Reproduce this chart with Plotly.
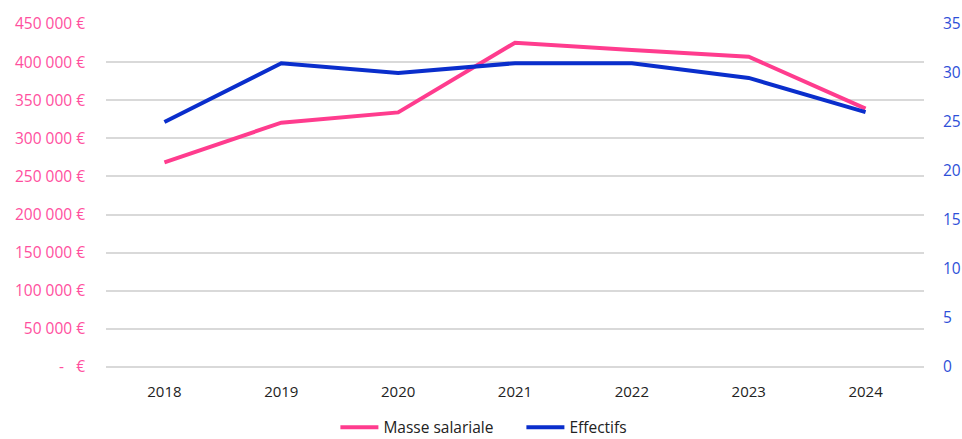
import plotly.graph_objects as go

years = ["2018", "2019", "2020", "2021", "2022", "2023", "2024"]
masse_salariale = [268500, 320500, 334000, 425500, 416000, 407000, 339000]
effectifs = [25, 31, 30, 31, 31, 29.5, 26]

left_ticks = [0, 50000, 100000, 150000, 200000, 250000, 300000, 350000, 400000, 450000]
right_ticks = [0, 5, 10, 15, 20, 25, 30, 35]


def fmt_eur(v):
    if v == 0:
        return "-   €"
    return f"{v:,.0f}".replace(",", " ") + " €"


left_text = [fmt_eur(v) for v in left_ticks]

pink = "#FF3C8E"
blue = "#0A2ECC"
font = "Open Sans"

fig = go.Figure()
fig.add_trace(go.Scatter(x=years, y=masse_salariale, name="Masse salariale", mode="lines",
                         line=dict(color=pink, width=4), yaxis="y"))
fig.add_trace(go.Scatter(x=years, y=effectifs, name="Effectifs", mode="lines",
                         line=dict(color=blue, width=4), yaxis="y2"))

fig.update_layout(
    width=962, height=439,
    margin=dict(l=106, r=38, t=24, b=72, autoexpand=False),
    paper_bgcolor="white", plot_bgcolor="white",
    font=dict(family=font, size=15),
    xaxis=dict(type="category", range=[-0.5, 6.5], showgrid=False, showline=False,
               zeroline=False, ticks="", tickfont=dict(color="#222222", size=15),
               ticklabelstandoff=14),
    yaxis=dict(range=[0, 450000], tickvals=left_ticks, ticktext=left_text,
               tickfont=dict(color="#FF4F9E", size=15.5), showgrid=True,
               gridcolor="#D9D9D9", gridwidth=1.5, zeroline=True,
               zerolinecolor="#D9D9D9", zerolinewidth=1.5, showline=False,
               ticks="", ticklabelstandoff=20),
    yaxis2=dict(range=[0, 35], tickvals=right_ticks, overlaying="y", side="right",
                tickfont=dict(color="#2E4FD8", size=15.5), showgrid=False, zeroline=False,
                showline=False, ticks="", ticklabelstandoff=18),
    legend=dict(orientation="h", xref="container", yref="container", x=0.542,
                xanchor="center", y=0.026, yanchor="middle",
                font=dict(color="#222222", size=15.5), itemwidth=38, tracegroupgap=0,
                entrywidth=133, entrywidthmode="pixels"),
    showlegend=True,
)

fig.write_html("out.html")
